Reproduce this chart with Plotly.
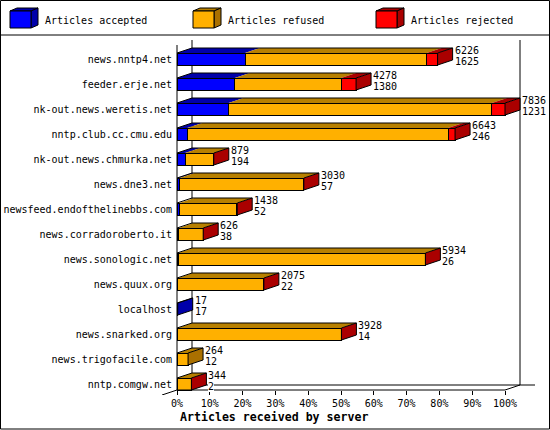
import plotly.graph_objects as go

servers = ['news.nntp4.net', 'feeder.erje.net', 'nk-out.news.weretis.net', 'nntp.club.cc.cmu.edu',
           'nk-out.news.chmurka.net', 'news.dne3.net', 'newsfeed.endofthelinebbs.com', 'news.corradoroberto.it',
           'news.sonologic.net', 'news.quux.org', 'localhost', 'news.snarked.org', 'news.trigofacile.com',
           'nntp.comgw.net']
totals = [6226, 4278, 7836, 6643, 879, 3030, 1438, 626, 5934, 2075, 17, 3928, 264, 344]
accepted = [1625, 1380, 1231, 246, 194, 57, 52, 38, 26, 22, 17, 14, 12, 2]
refused = [4338, 2540, 6294, 6230, 680, 2965, 1378, 584, 5900, 2047, 0, 3908, 252, 338]
rejected = [263, 358, 311, 167, 5, 8, 8, 4, 8, 6, 0, 6, 0, 4]
pct_ticks = [0, 10, 20, 30, 40, 50, 60, 70, 80, 90, 100]

names = ['Articles accepted', 'Articles refused', 'Articles rejected']
front_colors = ['#0000ff', '#ffb000', '#ff0000']
top_colors = ['#0000aa', '#b88000', '#aa0000']
side_colors = ['#0000aa', '#aa7000', '#aa0000']

W, H = 550, 430
LEFT, RIGHT, TOP, BOTTOM = 161, 535, 40, 395
PX_PER_PCT = 3.28
PX_PER_ROW = 25.0
DX = 15 / PX_PER_PCT   # depth of the fake 3d, in axis units
DY = 5 / PX_PER_ROW
BAR = 12 / PX_PER_ROW
FONT = 'DejaVu Sans Mono'

rows = list(range(len(servers)))
scale = 100.0 / max(totals)
series = [accepted, refused, rejected]


def px(x):
    return (x - LEFT) / (RIGHT - LEFT)


def py(y):
    return (BOTTOM - y) / (BOTTOM - TOP)


fig = go.Figure()

for s, name in enumerate(names):
    fig.add_trace(go.Bar(name=name, y=rows, x=[v * scale for v in series[s]], orientation='h', width=BAR,
                         marker=dict(color=front_colors[s], line=dict(color='black', width=1)),
                         hoverinfo='skip', showlegend=False))

# top and side faces, one filled trace per colour
tops = [([], []) for _ in names]
sides = [([], []) for _ in names]
out_x, out_y = [], []
for r in rows:
    y0, y1 = r - BAR / 2, r + BAR / 2
    start = 0.0
    last = 0
    for s in range(3):
        end = start + series[s][r] * scale
        if series[s][r] > 0:
            tops[s][0].extend([start, start + DX, end + DX, end, start, None])
            tops[s][1].extend([y0, y0 - DY, y0 - DY, y0, y0, None])
            last = s
        start = end
    sides[last][0].extend([start, start + DX, start + DX, start, start, None])
    sides[last][1].extend([y0, y0 - DY, y1 - DY, y1, y0, None])
    out_x.extend([0, DX, start + DX, start + DX, start, start, start + DX, None])
    out_y.extend([y0, y0 - DY, y0 - DY, y1 - DY, y1, y0, y0 - DY, None])

for s in range(3):
    fig.add_trace(go.Scatter(x=tops[s][0], y=tops[s][1], mode='lines', fill='toself', fillcolor=top_colors[s],
                             line=dict(width=0), hoverinfo='skip', showlegend=False))
    fig.add_trace(go.Scatter(x=sides[s][0], y=sides[s][1], mode='lines', fill='toself', fillcolor=side_colors[s],
                             line=dict(width=0), hoverinfo='skip', showlegend=False))
fig.add_trace(go.Scatter(x=out_x, y=out_y, mode='lines', line=dict(color='black', width=1),
                         hoverinfo='skip', showlegend=False))

# value labels next to each bar
annotations = []
for r in rows:
    end = totals[r] * scale
    for text, shift in ((totals[r], 9), (accepted[r], -2)):
        annotations.append(dict(x=end, y=r, xref='x', yref='y', text=str(text), showarrow=False, xanchor='left',
                                yanchor='middle', xshift=17, yshift=shift, bgcolor='white', borderpad=0,
                                borderwidth=0, font=dict(family=FONT, size=10, color='black')))

annotations.append(dict(x=px(274), y=py(417), xref='paper', yref='paper', text='<b>Articles received by server</b>',
                        showarrow=False, xanchor='center', yanchor='middle',
                        font=dict(family=FONT, size=11.6, color='black')))

# frame, axes box and legend swatches
black = dict(color='black', width=1)
shapes = [
    dict(type='rect', xref='paper', yref='paper', x0=px(0.5), x1=px(549.5), y0=py(0.5), y1=py(429), line=black),
    dict(type='line', xref='paper', yref='paper', x0=px(0), x1=px(550), y0=py(35), y1=py(35), line=black),
]
floor = (385 - 59) / PX_PER_ROW
front = (390 - 59) / PX_PER_ROW
low = (395 - 59) / PX_PER_ROW
roof = (40 - 59) / PX_PER_ROW
shapes += [
    dict(type='line', x0=DX, x1=DX, y0=roof, y1=floor, line=black, layer='below'),
    dict(type='line', x0=100 + DX, x1=100 + DX, y0=roof, y1=floor, line=black, layer='below'),
    dict(type='line', x0=DX, x1=(535 - 177) / PX_PER_PCT, y0=floor, y1=floor, line=black, layer='below'),
    dict(type='line', x0=0, x1=100, y0=front, y1=front, line=black),
    dict(type='line', x0=0, x1=0, y0=roof + DY, y1=front, line=black),
    dict(type='line', x0=-DX, x1=0, y0=low, y1=front, line=black),
    dict(type='line', x0=100, x1=100 + DX, y0=front, y1=floor, line=black),
]

for s, (sx, tx) in enumerate(zip([10, 193, 376], [42.5, 225.5, 408.5])):
    x0, x1, y0, y1 = px(sx), px(sx + 21), py(11), py(28)
    ox, oy = 7 / (RIGHT - LEFT), 3 / (BOTTOM - TOP)
    shapes.append(dict(type='path', xref='paper', yref='paper', line=black, fillcolor=top_colors[s],
                       path=f'M{x0},{y0} L{x0 + ox},{y0 + oy} L{x1 + ox},{y0 + oy} L{x1},{y0} Z'))
    shapes.append(dict(type='path', xref='paper', yref='paper', line=black, fillcolor=side_colors[s],
                       path=f'M{x1},{y0} L{x1 + ox},{y0 + oy} L{x1 + ox},{y1 + oy} L{x1},{y1} Z'))
    shapes.append(dict(type='rect', xref='paper', yref='paper', line=black, fillcolor=front_colors[s],
                       x0=x0, x1=x1, y0=y0, y1=y1))
    annotations.append(dict(x=px(tx), y=py(20), xref='paper', yref='paper', text=names[s], showarrow=False,
                            xanchor='left', yanchor='middle', font=dict(family=FONT, size=10, color='black')))

fig.update_layout(
    barmode='stack',
    width=W, height=H,
    autosize=False,
    margin=dict(l=LEFT, r=W - RIGHT, t=TOP, b=H - BOTTOM, pad=0),
    paper_bgcolor='white',
    plot_bgcolor='white',
    font=dict(family=FONT, size=10, color='black'),
    showlegend=False,
    shapes=shapes,
    annotations=annotations,
    xaxis=dict(range=[(LEFT - 177) / PX_PER_PCT, (RIGHT - 177) / PX_PER_PCT], tickvals=pct_ticks,
               ticktext=[f'{t}%' for t in pct_ticks], ticks='outside', ticklen=4, tickcolor='black',
               showgrid=False, zeroline=False, showline=False, anchor='free', position=py(390), automargin=False,
               tickfont=dict(family=FONT, size=10, color='black')),
    yaxis=dict(range=[(BOTTOM - 59) / PX_PER_ROW, (TOP - 59) / PX_PER_ROW], tickvals=rows, ticktext=servers,
               ticks='outside', ticklen=3, tickcolor='rgba(0,0,0,0)', showgrid=False, zeroline=False, showline=False,
               anchor='free', position=px(177), automargin=False,
               tickfont=dict(family=FONT, size=10, color='black')),
)

fig.write_html("out.html", config=dict(displayModeBar=False), post_script="document.body.style.margin='0';")
